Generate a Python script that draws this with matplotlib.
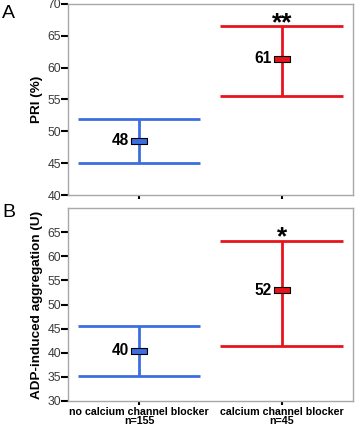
import numpy as np
import matplotlib
matplotlib.use("Agg")
import matplotlib.pyplot as plt
from matplotlib import font_manager as fm

# keep the plain Liberation Sans, not the narrow cut
fm.fontManager.ttflist = [f for f in fm.fontManager.ttflist if "Narrow" not in f.fname]
plt.rcParams['font.family'] = ['Liberation Sans', 'DejaVu Sans']

# data
groups = ["no calcium channel blocker\nn=155", "calcium channel blocker\nn=45"]
pri_mean = [48.5, 61.4]
pri_low = [45.0, 55.5]
pri_high = [51.9, 66.6]
pri_labels = ["48", "61"]
pri_sig = "**"
pri_sig_y = 68.2

adp_mean = [40.4, 53.0]
adp_low = [35.2, 41.3]
adp_high = [45.6, 63.1]
adp_labels = ["40", "52"]
adp_sig = "*"
adp_sig_y = 65.6

colors = ["#3b6fe0", "#e8141c"]
x = np.arange(1, len(groups) + 1)

fig = plt.figure(figsize=(3.57, 4.26), dpi=100)
axA = fig.add_axes([0.19, 0.542, 0.799, 0.449])
axB = fig.add_axes([0.19, 0.0587, 0.799, 0.453])

box = [(-1, -0.45), (1, -0.45), (1, 0.45), (-1, 0.45), (-1, -0.45)]


def panel(ax, mean, low, high, labels, sig, sig_y, ylim, yticks, ylabel):
    for i in range(len(x)):
        c = colors[i]
        ax.vlines(x[i], low[i], high[i], color=c, lw=2)
        ax.hlines([low[i], high[i]], x[i] - 0.43, x[i] + 0.43, color=c, lw=2)
        ax.plot(x[i], mean[i], marker=box, ms=11, mfc=c, mec="black", mew=0.8)
        ax.annotate(labels[i], (x[i], mean[i]), xytext=(-7, 0),
                    textcoords="offset points", ha="right", va="center",
                    fontsize=11.2, fontweight="bold")
    fs = 19
    ax.annotate(sig, (x[1], sig_y), xytext=(0, -0.58 * fs), textcoords="offset points",
                ha="center", va="baseline", fontsize=fs, fontweight="bold")
    ax.set_xlim(0.5, 2.5)
    ax.set_ylim(*ylim)
    ax.set_yticks(yticks)
    ax.set_xticks(x)
    for s in ax.spines.values():
        s.set_color("#a8a8a8")
        s.set_linewidth(1)
    ax.tick_params(axis="y", length=5, width=1.5, color="black",
                   labelsize=8.8, labelcolor="#3a3a3a", pad=0)
    ax.tick_params(axis="x", length=3, width=1.5, color="black",
                   labelsize=7.7, pad=1)
    ax.set_ylabel(ylabel, fontsize=9.7, fontweight="bold", labelpad=3)


panel(axA, pri_mean, pri_low, pri_high, pri_labels, pri_sig, pri_sig_y,
      (40, 70), [40, 45, 50, 55, 60, 65, 70], "PRI (%)")
axA.set_xticklabels([])

panel(axB, adp_mean, adp_low, adp_high, adp_labels, adp_sig, adp_sig_y,
      (30, 70), [30, 35, 40, 45, 50, 55, 60, 65], "ADP-induced aggregation (U)")
axB.set_xticklabels(groups, fontweight="bold", linespacing=0.9)

fig.text(0.006, 0.968, "A", fontsize=14, va="center", ha="left")
fig.text(0.006, 0.502, "B", fontsize=14, va="center", ha="left")

fig.savefig("out.png", dpi=100)
